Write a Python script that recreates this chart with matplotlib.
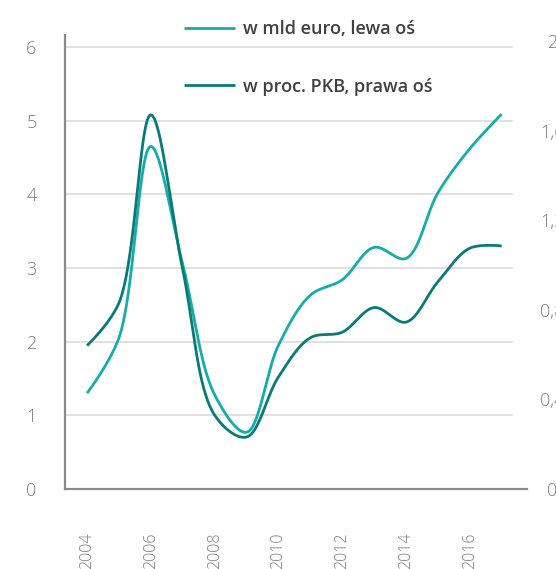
import numpy as np
import matplotlib
matplotlib.use("Agg")
import matplotlib.pyplot as plt

# ---- data ----
years = [2004, 2005, 2006, 2007, 2008, 2009, 2010, 2011, 2012, 2013, 2014, 2015, 2016, 2017]
mld_euro = [1.30, 2.05, 4.65, 3.05, 1.28, 0.77, 1.95, 2.63, 2.84, 3.28, 3.13, 4.02, 4.62, 5.09]
proc_pkb = [0.64, 0.83, 1.67, 0.98, 0.33, 0.232, 0.50, 0.675, 0.70, 0.81, 0.745, 0.925, 1.075, 1.085]
label_mld = "w mld euro, lewa oś"
label_pkb = "w proc. PKB, prawa oś"
left_ticks = [0, 1, 2, 3, 4, 5, 6]
left_labels = ["0", "1", "2", "3", "4", "5", "6"]
right_ticks = [0, 0.4, 0.8, 1.2, 1.6, 2.0]
right_labels = ["0", "0,4", "0,8", "1,2", "1,6", "2"]
x_ticks = [2004, 2006, 2008, 2010, 2012, 2014, 2016]
x_labels = ["2004", "2006", "2008", "2010", "2012", "2014", "2016"]

CYAN = "#16aca8"
DARK = "#0a7a77"
GRID = "#d9d9d9"
SPINE = "#8a8a8a"
TICKC = "#7d7d7d"


def catmull_rom(P, alpha=0.5, n=40):
    """Centripetal Catmull-Rom (d3 curveCatmullRom) through display-space points."""
    P = np.asarray(P, float)
    m = len(P)
    out = [P[:1]]
    for i in range(m - 1):
        p0 = P[i - 1] if i > 0 else P[i]
        p1, p2 = P[i], P[i + 1]
        p3 = P[i + 2] if i + 2 < m else P[i + 1]
        l01 = np.linalg.norm(p1 - p0)
        l12 = np.linalg.norm(p2 - p1)
        l23 = np.linalg.norm(p3 - p2)
        l01a, l12a, l23a = l01 ** alpha, l12 ** alpha, l23 ** alpha
        l01_2a, l12_2a, l23_2a = l01 ** (2 * alpha), l12 ** (2 * alpha), l23 ** (2 * alpha)
        c1 = p1.copy()
        c2 = p2.copy()
        if l01a > 1e-9:
            a = 2 * l01_2a + 3 * l01a * l12a + l12_2a
            nn = 3 * l01a * (l01a + l12a)
            c1 = (p1 * a - p0 * l12_2a + p2 * l01_2a) / nn
        if l23a > 1e-9:
            b = 2 * l23_2a + 3 * l23a * l12a + l12_2a
            mm = 3 * l23a * (l23a + l12a)
            c2 = (p2 * b + p1 * l23_2a - p3 * l12_2a) / mm
        u = np.linspace(0, 1, n)[1:, None]
        seg = (1 - u) ** 3 * p1 + 3 * (1 - u) ** 2 * u * c1 + 3 * (1 - u) * u ** 2 * c2 + u ** 3 * p2
        out.append(seg)
    return np.vstack(out)


def smooth_line(a, xs, ys):
    disp = a.transData.transform(np.column_stack([xs, ys]))
    curve = catmull_rom(disp)
    data = a.transData.inverted().transform(curve)
    return data[:, 0], data[:, 1]


plt.rcParams['font.family'] = ['Open Sans', 'DejaVu Sans']

W, H = 556, 569
fig = plt.figure(figsize=(W / 100, H / 100), dpi=100)
left_px, right_px, top_px, bot_px = 65, 527, 35, 489
ax = fig.add_axes([left_px / W, 1 - bot_px / H, (right_px - left_px) / W, (bot_px - top_px) / H])
ax2 = ax.twinx()

# scales
ax.set_xlim(2004 - 22 / 31.9, 2004 + 440 / 31.9)
ax.set_ylim(0, 6 * (bot_px - top_px) / 442.0)
ax2.set_ylim(0, 2 * (bot_px - top_px) / 448.0)

# grid lines (left axis ticks)
for v in left_ticks[1:]:
    ax.axhline(v, xmin=0, xmax=(512 - left_px) / (right_px - left_px), color=GRID, lw=1.1, zorder=0)

xs1, ys1 = smooth_line(ax, years, mld_euro)
xs2, ys2 = smooth_line(ax2, years, proc_pkb)
l1, = ax.plot(xs1, ys1, color=CYAN, lw=2.0, solid_capstyle='butt', zorder=3)
l2, = ax2.plot(xs2, ys2, color=DARK, lw=2.0, solid_capstyle='butt', zorder=3)

# spines
for a in (ax, ax2):
    for sp in ('top', 'right'):
        a.spines[sp].set_visible(False)
ax2.spines['left'].set_visible(False)
ax2.spines['bottom'].set_visible(False)
for sp in ('left', 'bottom'):
    ax.spines[sp].set_color(SPINE)
    ax.spines[sp].set_linewidth(1.6)

# ticks
ax.set_yticks(left_ticks, labels=left_labels, fontweight='light')
ax.tick_params(axis='y', length=0, pad=20.5, labelsize=13, labelcolor=TICKC)
ax2.set_yticks(right_ticks, labels=right_labels, ha='center', fontweight='light')
ax2.tick_params(axis='y', length=0, pad=18, labelsize=13, labelcolor=TICKC)

ax.set_xticks(x_ticks, labels=x_labels, rotation=90, va='top', ha='center', fontweight='light')
ax.tick_params(axis='x', length=0, pad=31, labelsize=11.5, labelcolor=TICKC)

# legend
leg = ax2.legend([l1, l2], [label_mld, label_pkb], loc='upper left',
                 bbox_to_anchor=(184 / W, 1 - 20 / H), bbox_transform=fig.transFigure,
                 frameon=False, borderpad=0, borderaxespad=0, handlelength=2.85,
                 handletextpad=0.42, labelspacing=2.2,
                 prop={'size': 13, 'weight': 'semibold'})
for t in leg.get_texts():
    t.set_color('#404040')
for hnd in leg.legend_handles:
    hnd.set_linewidth(2.0)

fig.savefig("out.png", dpi=100)
